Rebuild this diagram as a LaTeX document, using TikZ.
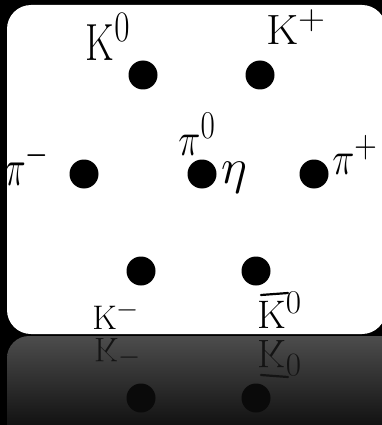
\documentclass[tikz,border=0pt]{standalone}
\begin{document}
\begin{tikzpicture}[x=1pt,y=-1pt,
  dot/.style={circle,fill=#1,inner sep=0pt,minimum size=29pt},
  dot/.default=black,
  lab/.style={inner sep=0pt,font=\Huge},
  barline/.style={line width=2.2pt,line cap=round,draw=#1},
  barline/.default=black]
\fill[black] (0,0) rectangle (382,425);
\useasboundingbox (0,0) rectangle (382,425);
% reflection
\begin{scope}
  \clip[rounded corners=22pt] (7,336) rectangle (410,470);
  \shade[top color=black!70, bottom color=black!93] (7,336) rectangle (410,425);
  \node[dot=black!96] (rKm) at (141,398) {};
  \node[dot=black!96] (rKb) at (256,398) {};
  \node[lab,text=black!92,anchor=base west] (rlKm) at (94,338) {\scalebox{1.37}[-1.37]{$\mathrm{K}^-$}};
  \node[lab,text=black!92,anchor=base west] (rlKb) at (257,340) {\scalebox{1.6}[-1.6]{$\mathrm{K}^0$}};
  \draw[barline=black!92] (261,375) -- (288,377);
\end{scope}
% panel
\fill[white, rounded corners=24pt] (7,5) rectangle (386,334);
% dots
\node[dot] (K0) at (143,75) {};
\node[dot] (Kp) at (260,75) {};
\node[dot] (pim) at (84,174) {};
\node[dot] (pi0) at (202,174) {};
\node[dot] (pip) at (314,174) {};
\node[dot] (Km) at (141,271) {};
\node[dot] (Kb) at (256,271) {};
% labels
\node[lab] (lK0) at (108,37) {\scalebox{1.6}[2.1]{$\mathrm{K}^0$}};
\node[lab] (lKp) at (296,27) {\scalebox{1.8}[1.7]{$\mathrm{K}^+$}};
\node[lab] (lpi0) at (197,134) {\scalebox{1.5}[1.9]{$\pi^0$}};
\node[lab] (lpim) at (27,163) {\scalebox{1.4}[2.1]{$\pi^-$}};
\node[lab] (leta) at (234,178) {\scalebox{2.0}{$\eta$}};
\node[lab] (lpip) at (355,155) {\scalebox{1.5}[1.9]{$\pi^+$}};
\node[lab] (lKm) at (116,315) {\scalebox{1.37}{$\mathrm{K}^-$}};
\node[lab,anchor=base west] (lKb) at (257,328) {\scalebox{1.6}{$\mathrm{K}^0$}};
\draw[barline] (261,295) -- (288,293);
\end{tikzpicture}
\end{document}
